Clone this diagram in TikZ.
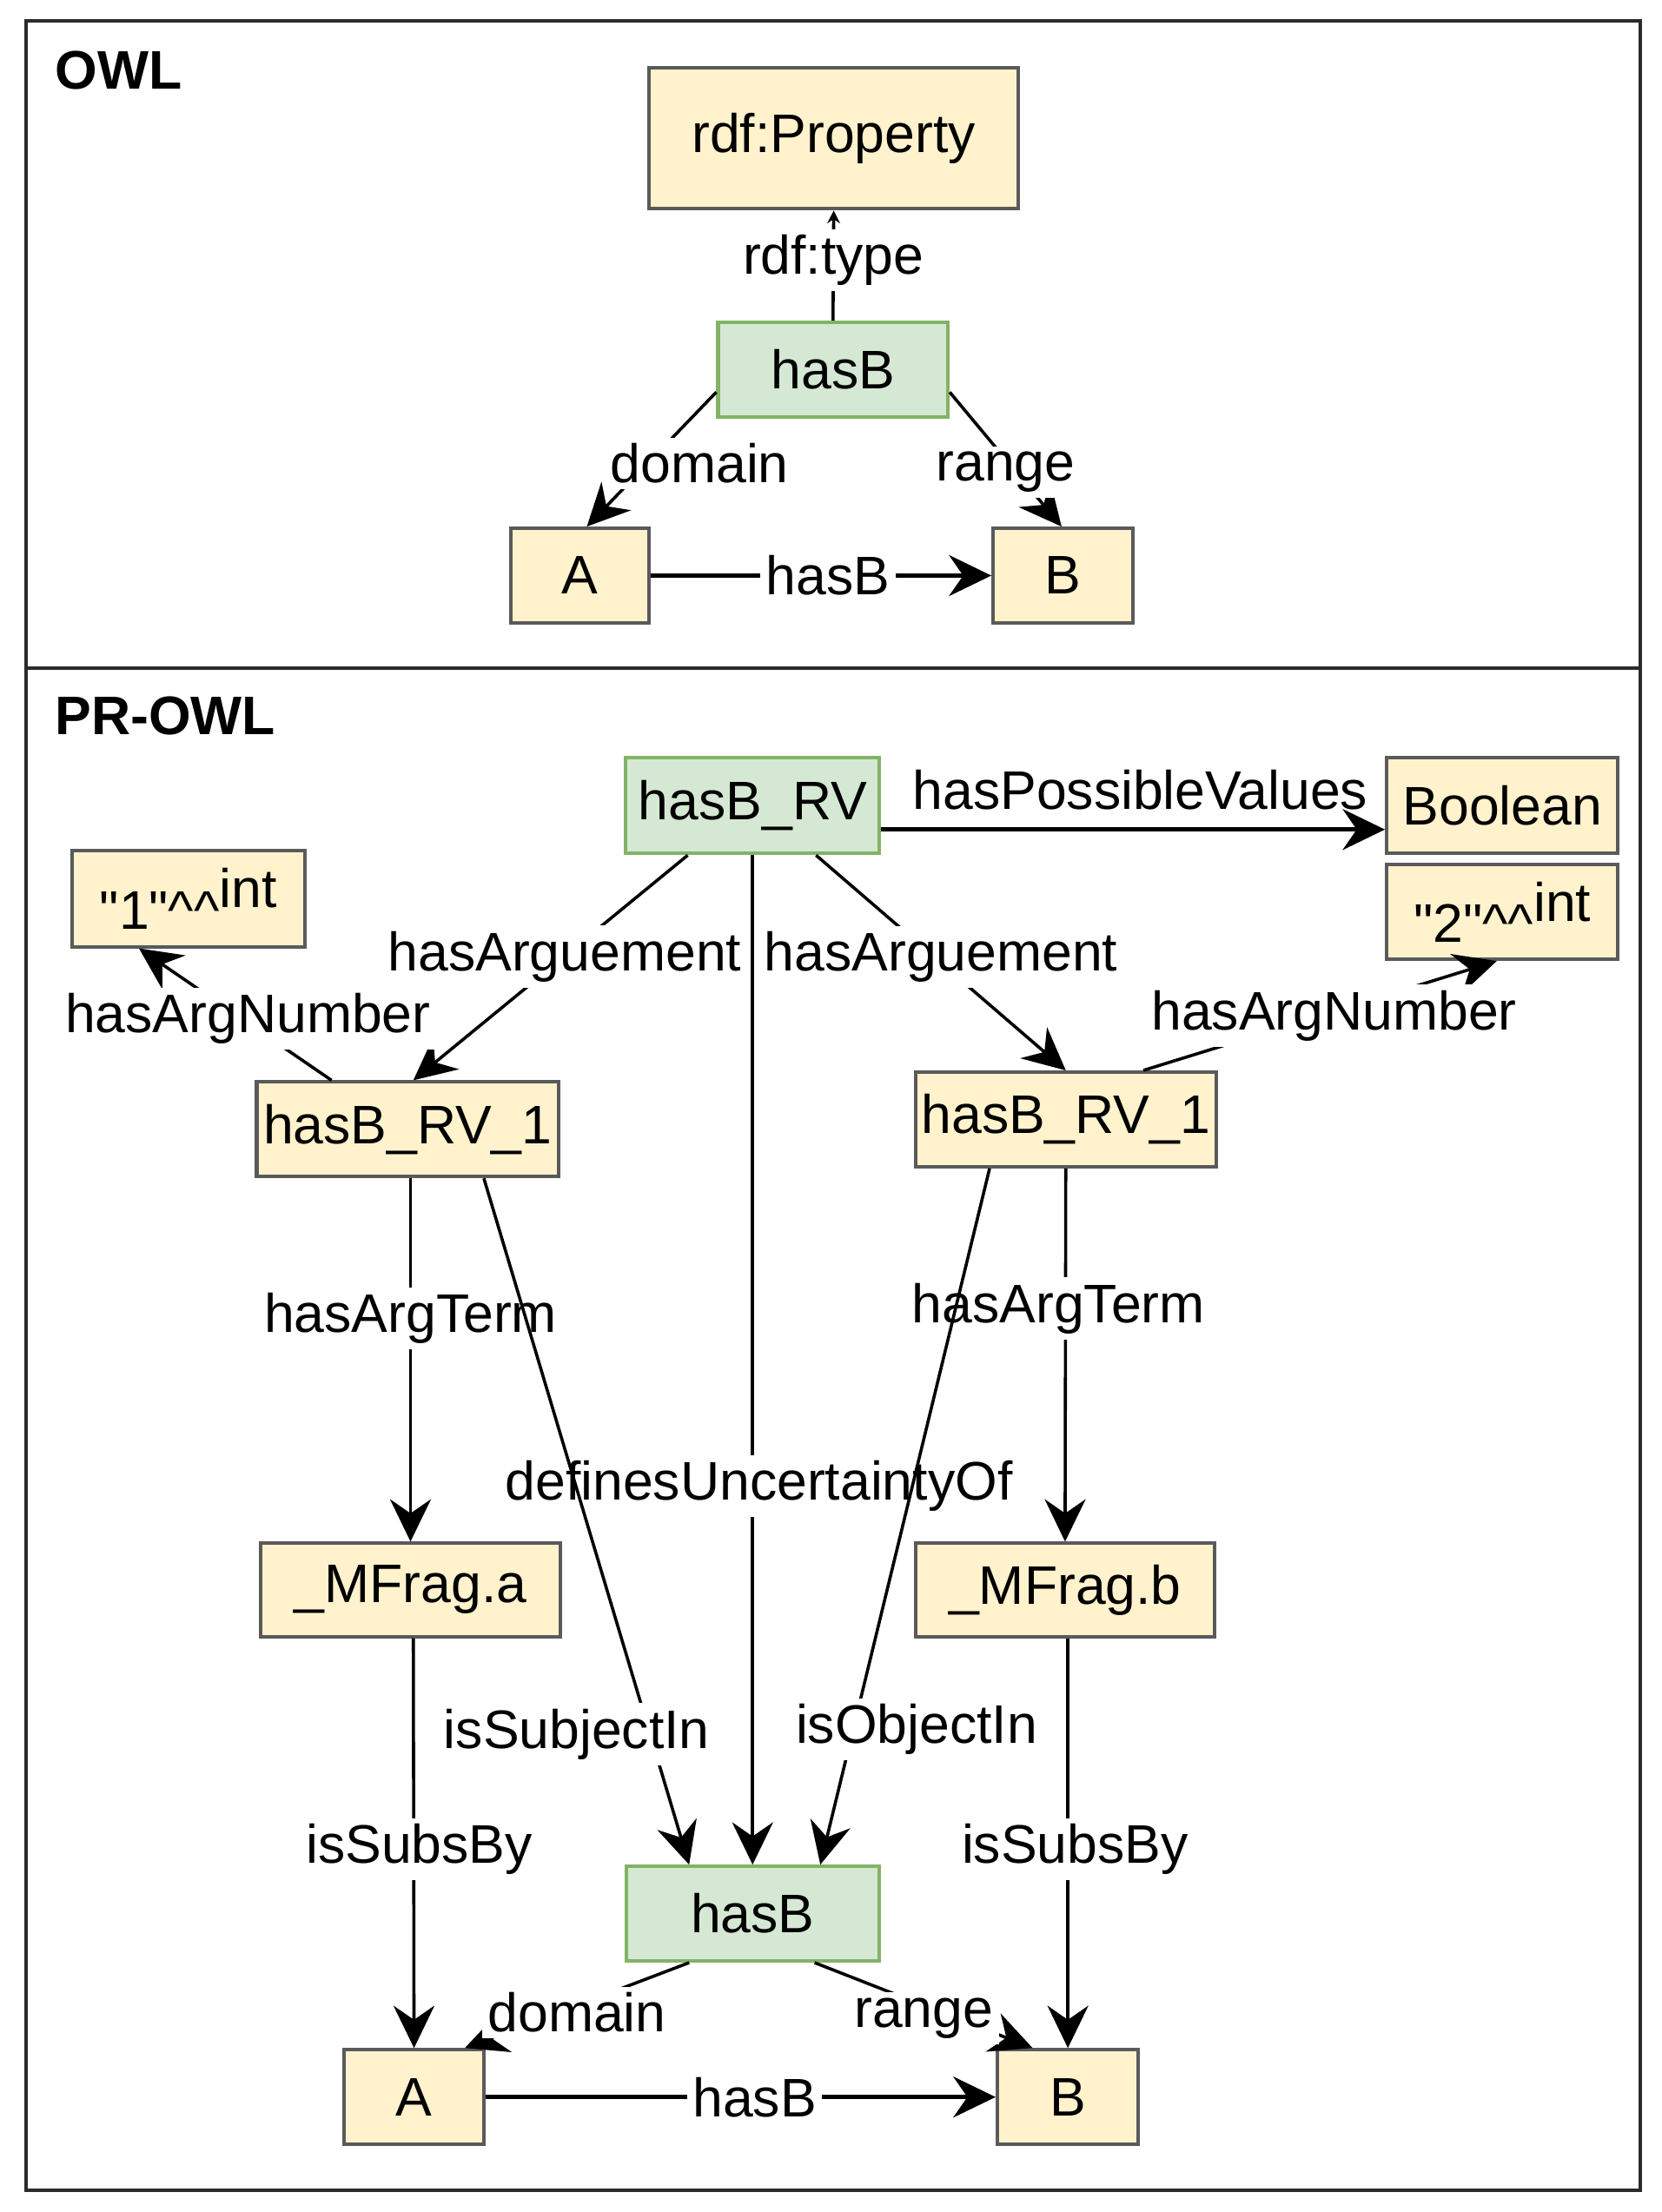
\documentclass[tikz,border=0pt]{standalone}
\usepackage{fontspec}
\setmainfont{Liberation Sans}
\newfontfamily\rawsans{Liberation Sans}[Ligatures=TeXOff]
\usetikzlibrary{arrows.meta}
\definecolor{yfill}{HTML}{FFF2CC}
\definecolor{ydraw}{HTML}{5A5A5A}
\definecolor{gfill}{HTML}{D5E8D4}
\definecolor{gdraw}{HTML}{82B366}
\definecolor{framecol}{HTML}{2B2B2B}
\begin{document}
\begin{tikzpicture}[x=1pt,y=-1pt,
  every node/.style={font=\fontsize{38.5}{46}\selectfont},
  ybox/.style={draw=ydraw, fill=yfill, line width=2.5pt, inner sep=0pt},
  gbox/.style={draw=gdraw, fill=gfill, line width=2.5pt, inner sep=0pt},
  conn/.style={line width=2.2pt, -{Stealth[length=30pt,width=29pt,inset=10pt]}},
  thickconn/.style={line width=3pt, -{Stealth[length=30pt,width=29pt,inset=10pt]}},
  elabel/.style={fill=white, inner sep=4pt},
]
\useasboundingbox (0,0) rectangle (1178,1568);
% frames
\draw[framecol, line width=2.5pt] (18.5,15) rectangle (1162.5,1552.5);
\draw[framecol, line width=2.5pt] (18.5,473.5) -- (1162.5,473.5);
\node[anchor=base west, inner sep=0pt, font=\fontsize{38.5}{46}\selectfont\bfseries] (owl) at (39,63) {OWL};
\node[anchor=base west, inner sep=0pt, font=\fontsize{38.5}{46}\selectfont\bfseries] (prowl) at (39,521) {PR-OWL};

% OWL nodes
\node[ybox, minimum width=262pt, minimum height=100pt] (prop) at (591,98) {rdf:Property};
\node[gbox, minimum width=163pt, minimum height=67pt] (hasBa) at (590.5,262) {hasB};
\node[ybox, minimum width=98pt, minimum height=67pt] (Aa) at (411,408) {A};
\node[ybox, minimum width=99pt, minimum height=67pt] (Ba) at (753.5,408) {B};

% PR-OWL nodes
\node[gbox, minimum width=180pt, minimum height=68pt] (rv) at (533.5,571) {hasB\_RV};
\node[ybox, minimum width=164pt, minimum height=68pt] (bool) at (1065,571) {Boolean};
\node[ybox, minimum width=165pt, minimum height=68pt] (intone) at (133.5,637) {\rawsans\raisebox{-15pt}{"1"\textasciicircum\textasciicircum}int};
\node[ybox, minimum width=164pt, minimum height=67pt] (inttwo) at (1065,646.5) {\rawsans\raisebox{-15pt}{"2"\textasciicircum\textasciicircum}int};
\node[ybox, minimum width=214pt, minimum height=67pt] (rva) at (289,800.5) {hasB\_RV\_1};
\node[ybox, minimum width=213pt, minimum height=67pt] (rvb) at (755.5,793.5) {hasB\_RV\_1};
\node[ybox, minimum width=212pt, minimum height=66pt] (mfa) at (291,1127) {\_MFrag.a};
\node[ybox, minimum width=212pt, minimum height=66pt] (mfb) at (755,1127) {\_MFrag.b};
\node[gbox, minimum width=179pt, minimum height=67pt] (hasBb) at (533.5,1356.5) {hasB};
\node[ybox, minimum width=99pt, minimum height=67pt] (Ab) at (293.5,1486.5) {A};
\node[ybox, minimum width=100pt, minimum height=67pt] (Bb) at (757,1486.5) {B};

% OWL edges
\draw[line width=2.2pt, -{Stealth[length=9pt,width=9pt]}] (hasBa.north) -- node[elabel, pos=0.55] {rdf:type} (prop.south);
\draw[conn] ([yshift=-16pt]hasBa.west) -- node[elabel, pos=0.5, xshift=34pt, yshift=-3pt] {domain} ([xshift=5pt]Aa.north);
\draw[conn] ([yshift=-16pt]hasBa.east) -- node[elabel, pos=0.5, yshift=-9pt] {range} ([xshift=-1pt]Ba.north);
\draw[thickconn] (Aa.east) -- node[elabel, pos=0.5, xshift=5pt] {hasB} (Ba.west);

% PR-OWL edges
\draw[thickconn] ([yshift=-17pt]rv.east) -- node[pos=0.5, xshift=5pt, yshift=28pt] {hasPossibleValues} ([yshift=-17pt]bool.west);
\draw[conn] ([xshift=-46pt]rv.south) -- node[elabel, pos=0.5, xshift=10pt, yshift=8pt] {hasArguement} ([xshift=4pt]rva.north);
\draw[conn] ([xshift=45pt]rv.south) -- node[elabel, pos=0.5, yshift=4pt] {hasArguement} (rvb.north);
\draw[conn] ([xshift=-54pt]rva.north) -- node[elabel, pos=0.5, xshift=9pt, yshift=-3pt] {hasArgNumber} ([xshift=-35pt]intone.south);
\draw[conn] ([xshift=55pt]rvb.north) -- node[elabel, pos=0.5, xshift=10pt] {hasArgNumber} ([xshift=-4pt]inttwo.south);
\draw[conn] ([xshift=2pt]rva.south) -- node[elabel, pos=0.385] {hasArgTerm} (mfa.north);
\draw[conn] (rvb.south) -- node[elabel, pos=0.375, xshift=-5pt] {hasArgTerm} (mfb.north);
\draw[conn] (rv.south) -- node[elabel, pos=0.625, xshift=4.5pt] {definesUncertaintyOf} (hasBb.north);
\draw[conn] ([xshift=2pt]mfa.south) -- node[elabel, pos=0.515, xshift=4pt] {isSubsBy} (Ab.north);
\draw[conn] ([xshift=2pt]mfb.south) -- node[elabel, pos=0.515, xshift=5pt] {isSubsBy} (Bb.north);
\draw[conn] ([xshift=54pt]rva.south) -- node[elabel, pos=0.81, xshift=-52pt] {isSubjectIn} ([xshift=-45pt]hasBb.north);
\draw[conn] ([xshift=-54pt]rvb.south) -- node[elabel, pos=0.806, xshift=45pt] {isObjectIn} ([xshift=48pt]hasBb.north);
\draw[conn] ([xshift=-45pt]hasBb.south) -- node[elabel, pos=0.5, yshift=-5pt] {domain} ([xshift=36pt]Ab.north);
\draw[conn] ([xshift=44pt]hasBb.south) -- node[elabel, pos=0.5, yshift=-9pt] {range} ([xshift=-25pt]Bb.north);
\draw[thickconn] (Ab.east) -- node[elabel, pos=0.5, xshift=10pt] {hasB} (Bb.west);
\end{tikzpicture}
\end{document}
